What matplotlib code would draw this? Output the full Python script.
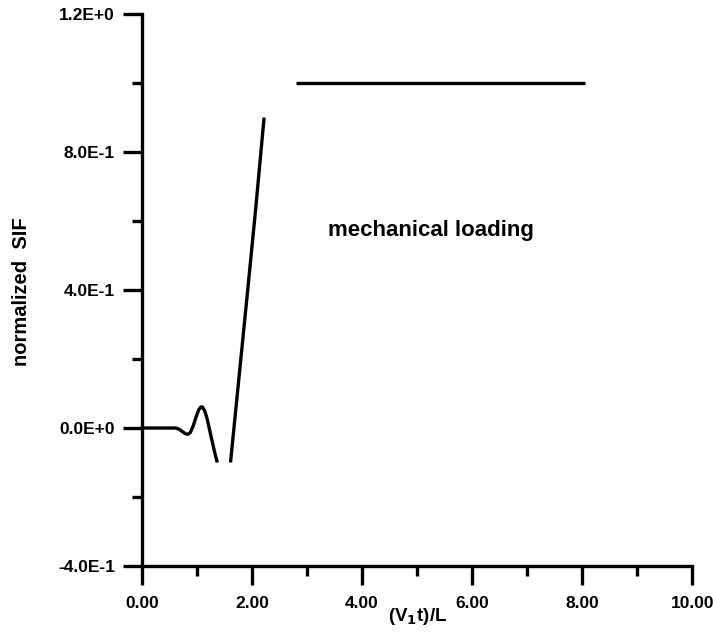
"""
Normalized SIF versus (V1 t)/L under mechanical loading.
"""
import numpy as np
import matplotlib
matplotlib.use('Agg')
import matplotlib.pyplot as plt
from matplotlib.ticker import MultipleLocator

# curve, in three pieces (gaps in the original)
x_wave = [0.0, 0.5, 0.62, 0.68, 0.74, 0.80, 0.84, 0.88, 0.93, 0.98, 1.03,
          1.07, 1.10, 1.14, 1.18, 1.22, 1.26, 1.30, 1.34, 1.37]
y_wave = [0.0, 0.0, 0.0, -0.004, -0.011, -0.017, -0.018, -0.013, 0.005, 0.03, 0.052,
          0.061, 0.061, 0.05, 0.03, 0.002, -0.027, -0.055, -0.082, -0.1]
x_rise = [1.61, 1.76, 1.91, 2.07, 2.22]
y_rise = [-0.1, 0.14, 0.38, 0.64, 0.9]
x_flat = [2.8, 8.05]
y_flat = [1.0, 1.0]

x_ticks = [0, 2, 4, 6, 8, 10]
y_ticks = [-0.4, 0.0, 0.4, 0.8, 1.2]
y_tick_labels = ['-4.0E-1', '0.0E+0', '4.0E-1', '8.0E-1', '1.2E+0']

plt.rcParams['font.family'] = ['Liberation Sans', 'DejaVu Sans']
plt.rcParams['font.weight'] = 'bold'

fig = plt.figure(figsize=(7.13, 6.41), dpi=100)
ax = fig.add_axes([0.199, 0.117, 0.772, 0.861])

lw = 2.4
for xs, ys in [(x_wave, y_wave), (x_rise, y_rise), (x_flat, y_flat)]:
    ax.plot(xs, ys, color='black', lw=lw, solid_capstyle='butt',
            solid_joinstyle='round', clip_on=False)

ax.set_xlim(0, 10)
ax.set_ylim(-0.4, 1.2)

ax.spines['top'].set_visible(False)
ax.spines['right'].set_visible(False)
for side in ['left', 'bottom']:
    ax.spines[side].set_linewidth(lw)

ax.set_xticks(x_ticks)
ax.set_xticklabels(['%.2f' % v for v in x_ticks])
ax.xaxis.set_minor_locator(MultipleLocator(1))
ax.set_yticks(y_ticks)
ax.set_yticklabels(y_tick_labels)
ax.yaxis.set_minor_locator(MultipleLocator(0.2))

ax.tick_params(which='major', direction='out', length=13.5, width=lw,
               labelsize=12.5, color='black')
ax.tick_params(axis='x', which='major', pad=8)
ax.tick_params(axis='y', which='major', pad=6)
ax.tick_params(which='minor', direction='out', length=7.5, width=lw, color='black')

ax.set_xlabel('(V$_\\mathbf{1}$t)/L', fontsize=13.5, fontweight='bold', va='center')
ax.xaxis.set_label_coords(0.5, -0.092)
ax.set_ylabel('normalized  SIF', fontsize=14.5, fontweight='bold', va='center')
ax.yaxis.set_label_coords(-0.218, 0.497)

ax.text(3.38, 0.574, 'mechanical loading', fontsize=16, fontweight='bold',
        ha='left', va='center')

fig.savefig('out.png', dpi=100)
